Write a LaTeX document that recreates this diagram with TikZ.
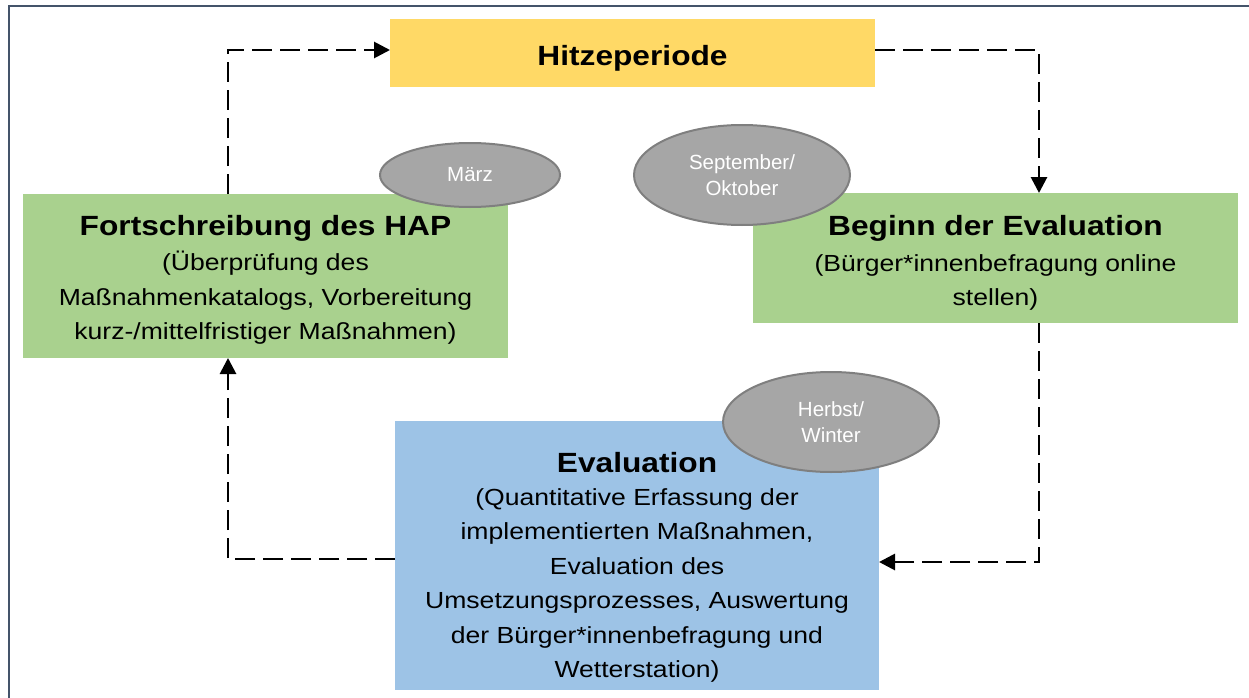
\documentclass[tikz,border=0pt]{standalone}
\usepackage{fontspec}
\setmainfont{Liberation Sans}
\newfontfamily\boxfont{Liberation Sans}[FakeStretch=1.14]
\usetikzlibrary{arrows.meta,shapes.geometric,calc}
\definecolor{hyellow}{HTML}{FFD966}
\definecolor{hgreen}{HTML}{A9D18E}
\definecolor{hblue}{HTML}{9DC3E6}
\definecolor{egray}{HTML}{A6A6A6}
\definecolor{eborder}{HTML}{7F7F7F}
\definecolor{frame}{HTML}{44546A}
\tikzset{
  boxshape/.style={rectangle, inner sep=0pt, outer sep=0pt},
  boxtext/.style={align=center, inner sep=0pt, font=\boxfont\fontsize{23.3}{34.5}\selectfont, text=black},
  titletext/.style={align=center, inner sep=0pt, font=\boxfont\bfseries\fontsize{27.8}{34}\selectfont, text=black},
  month/.style={ellipse, draw=eborder, line width=2pt, fill=egray, inner sep=0pt, align=center, text=white, font=\fontsize{20.5}{26}\selectfont},
  conn/.style={line width=2.8pt, dash pattern=on 20pt off 8pt, -{Triangle[length=16pt,width=16pt]}},
}
\begin{document}
\begin{tikzpicture}[x=1pt,y=-1pt]
\useasboundingbox (0,0) rectangle (1249,698);
% frame
\draw[frame, line width=2.5pt] (9,710) -- (9,6) -- (1260,6);
% boxes
\node[boxshape, fill=hyellow, minimum width=485pt, minimum height=68pt] (hitze) at (632.5,53) {};
\node[boxshape, fill=hgreen, minimum width=485pt, minimum height=164pt] (fort) at (265.5,276) {};
\node[boxshape, fill=hgreen, minimum width=485pt, minimum height=130pt] (beginn) at (995.5,258) {};
\node[boxshape, fill=hblue, minimum width=484pt, minimum height=269pt] (eval) at (637,555.5) {};
% texts
\node[titletext] (hitzetxt) at (632.5,58) {Hitzeperiode};
\node[boxtext] (forttxt) at (265.5,280) {{\bfseries\fontsize{27.8}{34}\selectfont Fortschreibung des HAP}\\[1pt]
(Überprüfung des\\Maßnahmenkatalogs, Vorbereitung\\kurz-/mittelfristiger Maßnahmen)};
\node[boxtext] (beginntxt) at (995.5,263) {{\bfseries\fontsize{27.8}{34}\selectfont Beginn der Evaluation}\\[1pt]
(Bürger*innenbefragung online\\stellen)};
\node[boxtext] (evaltxt) at (637,567.5) {{\bfseries\fontsize{27.8}{34}\selectfont Evaluation}\\[-2pt]
(Quantitative Erfassung der\\implementierten Maßnahmen,\\Evaluation des\\Umsetzungsprozesses, Auswertung\\der Bürger*innenbefragung und\\Wetterstation)};
% connector corners
\coordinate (c1) at (228,50);
\coordinate (c2) at (1039,50);
\coordinate (c3) at (1039,562);
\coordinate (c4) at (228,559);
\draw[conn] (fort.north -| c1) -- (c1) -- (c1 -| hitze.west);
\draw[conn] (c2 -| hitze.east) -- (c2) -- (beginn.north -| c2);
\draw[conn] (beginn.south -| c3) -- (c3) -- (c3 -| eval.east);
\draw[conn] (c4 -| eval.west) -- (c4) -- (fort.south -| c4);
% month ellipses
\node[month, minimum width=180pt, minimum height=64pt] (maerz) at (470,175) {März};
\node[month, minimum width=216pt, minimum height=100pt] (sept) at (742,175) {September/\\Oktober};
\node[month, minimum width=216pt, minimum height=100pt] (herbst) at (831,422) {Herbst/\\Winter};
\end{tikzpicture}
\end{document}
